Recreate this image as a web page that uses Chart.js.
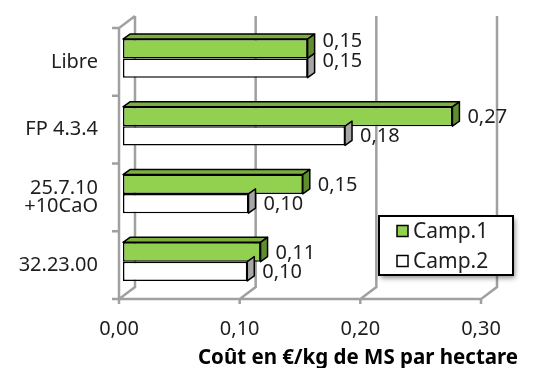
<!DOCTYPE html>
<html>
<head>
<meta charset="utf-8">
<script src="https://cdn.jsdelivr.net/npm/chart.js@4.4.1/dist/chart.umd.min.js"></script>
<style>
  html, body { margin: 0; padding: 0; background: #fff; }
  #wrap { width: 535px; height: 368px; }
</style>
</head>
<body>
<div id="wrap"><canvas id="coutChart"></canvas></div>
<script>
// Données
const categories = ['Libre', 'FP 4.3.4', ['25.7.10', '+10CaO'], '32.23.00'];
const camp1 = [0.153, 0.273, 0.149, 0.114];
const camp2 = [0.153, 0.184, 0.104, 0.103];
const seriesNames = ['Camp.1', 'Camp.2'];
const xTicks = [0, 0.1, 0.2, 0.3];
const axisTitle = 'Coût en €/kg de MS par hectare';

const FONT = '"Noto Sans", sans-serif';
const GRID = '#a0a0a0';
const DEPTH = { x: 16, y: -12 };     // profondeur des murs 3D
const SHIFT = { x: 4, y: -3.5 };     // position des barres dans la profondeur
const BAR_D = { x: 7, y: -5 };       // épaisseur des barres

const faceColors = [
    { front: '#92d050', top: '#7daf3e', side: '#5f8e2c' },
    { front: '#ffffff', top: '#d9d9d9', side: '#a6a6a6' }
];

const fmt = v => v.toFixed(2).replace('.', ',');

function poly(ctx, pts, fill) {
    ctx.beginPath();
    ctx.moveTo(pts[0][0], pts[0][1]);
    for (let i = 1; i < pts.length; i++) ctx.lineTo(pts[i][0], pts[i][1]);
    ctx.closePath();
    ctx.fillStyle = fill;
    ctx.fill();
    ctx.stroke();
}

// Cadre 3D, faces des barres, étiquettes, légende et titre
const pseudo3d = {
    id: 'pseudo3d',
    beforeDatasetsDraw(chart) {
        const { ctx, chartArea: a, scales: { x } } = chart;
        ctx.save();
        ctx.strokeStyle = GRID;
        ctx.lineWidth = 2.5;
        ctx.beginPath();
        // mur gauche
        ctx.moveTo(a.left, a.bottom);
        ctx.lineTo(a.left, a.top);
        ctx.lineTo(a.left + DEPTH.x, a.top + DEPTH.y);
        // sol avant
        ctx.moveTo(a.left, a.bottom);
        ctx.lineTo(a.right, a.bottom);
        // grilles du fond + diagonales du sol + graduations
        xTicks.forEach(v => {
            const px = x.getPixelForValue(v);
            ctx.moveTo(px + DEPTH.x, a.top + DEPTH.y);
            ctx.lineTo(px + DEPTH.x, a.bottom + DEPTH.y);
            ctx.lineTo(px, a.bottom);
            ctx.lineTo(px, a.bottom + 5);
        });
        // graduations de l'axe des catégories
        const step = a.height / categories.length;
        for (let i = 0; i <= categories.length; i++) {
            const py = a.top + i * step;
            ctx.moveTo(a.left - 7, py);
            ctx.lineTo(a.left, py);
        }
        ctx.stroke();
        ctx.restore();

        ctx.save();
        ctx.translate(SHIFT.x, SHIFT.y);
    },
    afterDatasetsDraw(chart) {
        const { ctx } = chart;
        ctx.strokeStyle = '#000';
        ctx.lineWidth = 1.5;
        ctx.lineJoin = 'round';
        chart.data.datasets.forEach((ds, di) => {
            const meta = chart.getDatasetMeta(di);
            const col = faceColors[di];
            meta.data.forEach(bar => {
                const { x: r, y: cy, base: l, height: h } = bar.getProps(['x', 'y', 'base', 'height'], true);
                const t = cy - h / 2, b = cy + h / 2;
                if (di === 0) {
                    poly(ctx, [[l, t], [l + BAR_D.x, t + BAR_D.y], [r + BAR_D.x, t + BAR_D.y], [r, t]], col.top);
                }
                poly(ctx, [[r, t], [r + BAR_D.x, t + BAR_D.y], [r + BAR_D.x, b + BAR_D.y], [r, b]], col.side);
            });
        });
        // étiquettes de valeurs
        ctx.font = '20px ' + FONT;
        ctx.fillStyle = '#1e1e1e';
        ctx.textAlign = 'left';
        ctx.textBaseline = 'middle';
        chart.data.datasets.forEach((ds, di) => {
            chart.getDatasetMeta(di).data.forEach((bar, i) => {
                const nudge = i === 0 ? -7 : 1;
                ctx.fillText(fmt(ds.data[i]), bar.x + BAR_D.x + 8, bar.y + nudge);
            });
        });
        ctx.restore();
    },
    afterDraw(chart) {
        const { ctx } = chart;
        // légende
        const lx = 379, ly = 216, lw = 134, lh = 59;
        ctx.save();
        ctx.shadowColor = 'rgba(0,0,0,0.45)';
        ctx.shadowBlur = 5;
        ctx.shadowOffsetX = 2;
        ctx.shadowOffsetY = 3;
        ctx.fillStyle = '#fff';
        ctx.fillRect(lx, ly, lw, lh);
        ctx.restore();
        ctx.save();
        ctx.strokeStyle = '#000';
        ctx.lineWidth = 2;
        ctx.strokeRect(lx, ly, lw, lh);
        ctx.font = '21px ' + FONT;
        ctx.textBaseline = 'middle';
        chart.data.datasets.forEach((ds, i) => {
            const cy = ly + 15 + i * 30;
            ctx.fillStyle = ds.backgroundColor;
            ctx.lineWidth = 1.5;
            ctx.fillRect(lx + 18, cy - 5.5, 11, 11);
            ctx.strokeRect(lx + 18, cy - 5.5, 11, 11);
            ctx.fillStyle = '#1e1e1e';
            ctx.fillText(ds.label, lx + 34, cy + 1);
        });
        // titre de l'axe
        ctx.font = 'bold 20.5px ' + FONT;
        ctx.textAlign = 'center';
        ctx.textBaseline = 'alphabetic';
        ctx.fillStyle = '#000';
        ctx.fillText(axisTitle, 358, 364);
        ctx.restore();
    }
};

new Chart(document.getElementById('coutChart').getContext('2d'), {
    type: 'bar',
    data: {
        labels: categories,
        datasets: [
            { label: seriesNames[0], data: camp1, backgroundColor: faceColors[0].front },
            { label: seriesNames[1], data: camp2, backgroundColor: faceColors[1].front }
        ]
    },
    options: {
        indexAxis: 'y',
        responsive: true,
        maintainAspectRatio: false,
        animation: false,
        layout: { padding: { top: 28, right: 54, left: 0, bottom: 0 } },
        datasets: {
            bar: {
                borderColor: '#000',
                borderWidth: 1.5,
                borderSkipped: false,
                barPercentage: 1,
                categoryPercentage: 0.57
            }
        },
        plugins: {
            legend: { display: false },
            tooltip: { enabled: false }
        },
        scales: {
            x: {
                min: 0,
                max: 0.3,
                afterFit: s => { s.height = 69; },
                grid: { display: false },
                border: { display: false },
                ticks: {
                    stepSize: 0.1,
                    padding: 10,
                    color: '#1e1e1e',
                    font: { family: FONT, size: 20 },
                    callback: v => fmt(v)
                }
            },
            y: {
                afterFit: s => { s.width = 119; },
                grid: { display: false },
                border: { display: false },
                ticks: {
                    padding: 13,
                    color: '#1e1e1e',
                    font: { family: FONT, size: 20, lineHeight: 0.9 }
                }
            }
        }
    },
    plugins: [pseudo3d]
});
</script>
</body>
</html>
